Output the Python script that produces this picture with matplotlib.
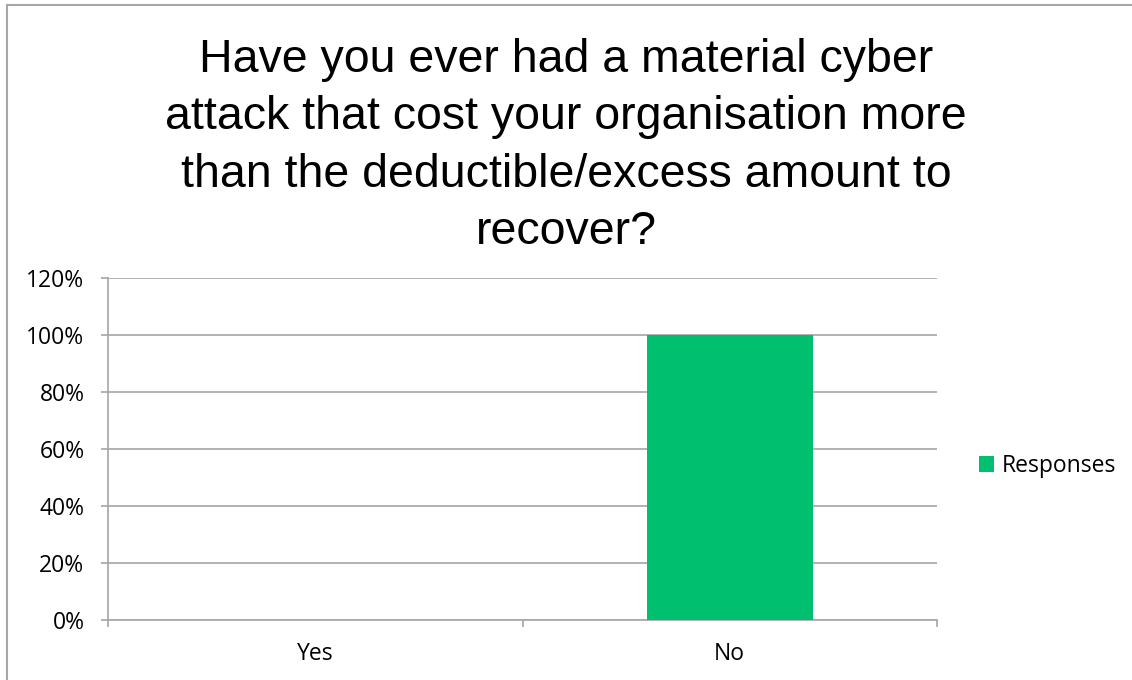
import matplotlib
matplotlib.use('Agg')
import matplotlib.pyplot as plt
import numpy as np
from matplotlib.patches import Patch
from matplotlib.lines import Line2D

categories = ['Yes', 'No']
responses = [0.0, 1.0]
yticks = [0, 0.2, 0.4, 0.6, 0.8, 1.0, 1.2]
ytick_labels = ['0%', '20%', '40%', '60%', '80%', '100%', '120%']
title = ('Have you ever had a material cyber\n'
         'attack that cost your organisation more\n'
         'than the deductible/excess amount to\n'
         'recover?')

W, H = 1132, 680
fig = plt.figure(figsize=(W / 100, H / 100), dpi=100)

# plot area in pixels
left, right, top, bottom = 108, 937, 278, 620
ax = fig.add_axes([left / W, 1 - bottom / H, (right - left) / W, (bottom - top) / H])

grey = '#a6a6a6'
green = '#00bf6f'
tick_font = 'Open Sans'
fs = 16.5

index = np.arange(len(categories))
ax.bar(index, responses, width=0.4, color=green, zorder=3, label='Responses')
ax.set_xlim(-0.5, len(categories) - 0.5)
ax.set_ylim(0, 1.2)

ax.set_yticks(yticks)
ax.set_yticklabels(ytick_labels, fontsize=fs, family=tick_font)
ax.yaxis.grid(True, color=grey, linewidth=1.2, zorder=0)

ax.set_xticks(index)
ax.set_xticklabels(categories, fontsize=fs, family=tick_font)
ax.tick_params(axis='x', length=0, pad=16)
ax.tick_params(axis='y', length=5, color=grey, width=1.2, pad=12)

# category boundary ticks
ax.set_xticks([-0.5, 0.5, 1.5], minor=True)
ax.tick_params(axis='x', which='minor', length=5, color=grey, width=1.2)

for s in ['top', 'right']:
    ax.spines[s].set_visible(False)
ax.spines['left'].set_color(grey)
ax.spines['bottom'].set_color(grey)
ax.spines['left'].set_linewidth(1.2)
ax.spines['bottom'].set_linewidth(1.2)

fig.text(566 / W, 1 - 38 / H, title, ha='center', va='top', fontsize=33.5,
         family='Liberation Sans', linespacing=1.39)

handles = [Patch(facecolor=green, edgecolor='none', label='Responses')]
fig.legend(handles=handles, loc='center left', bbox_to_anchor=(958 / W, 1 - 466 / H),
           frameon=False, prop={'family': tick_font, 'size': fs},
           handlelength=0.65, handleheight=0.65, handletextpad=0.35)

# outer chart border (left and top edges)
fig.add_artist(Line2D([7 / W, 7 / W], [0, 1 - 5 / H], color=grey, linewidth=1.5))
fig.add_artist(Line2D([7 / W, 1], [1 - 5 / H, 1 - 5 / H], color=grey, linewidth=1.5))

fig.savefig('out.png', dpi=100)
